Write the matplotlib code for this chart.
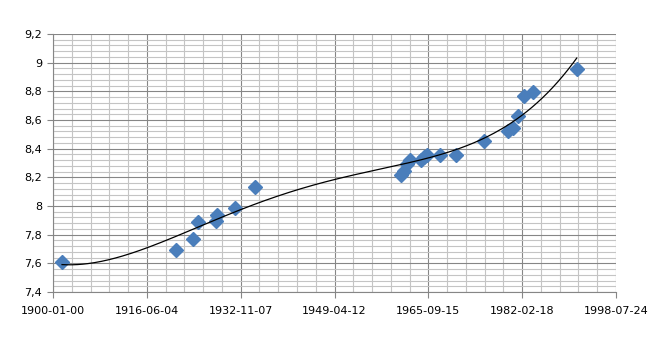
import numpy as np
import matplotlib
matplotlib.use("Agg")
import matplotlib.pyplot as plt
from matplotlib.ticker import MultipleLocator, FuncFormatter, FixedLocator

# Excel serial dates (days) and values
x_serial = [576, 7866, 8934, 9292, 10423, 10506, 11638, 12917,
            22234, 22445, 22637, 22797, 23520, 23700, 23900, 24746, 25770,
            27580, 29115, 29397, 29755, 30138, 30714, 33489]
y_vals = [7.609, 7.693, 7.770, 7.891, 7.898, 7.937, 7.984, 8.135,
          8.216, 8.246, 8.293, 8.318, 8.321, 8.342, 8.356, 8.356, 8.356,
          8.454, 8.525, 8.542, 8.630, 8.768, 8.794, 8.956]

x_tick_pos = [0, 6000, 12000, 18000, 24000, 30000, 36000]
x_tick_labels = ["1900-01-00", "1916-06-04", "1932-11-07", "1949-04-12",
                 "1965-09-15", "1982-02-18", "1998-07-24"]

W, H = 666, 356
fig = plt.figure(figsize=(W/100, H/100), dpi=100)
ax = fig.add_axes([53/W, (H-292)/H, (616-53)/W, (292-34)/H])

ax.set_xlim(0, 36000)
ax.set_ylim(7.4, 9.2)

ax.xaxis.set_major_locator(FixedLocator(x_tick_pos))
ax.set_xticklabels(x_tick_labels)
ax.xaxis.set_minor_locator(MultipleLocator(1200))
ax.yaxis.set_major_locator(MultipleLocator(0.2))
ax.yaxis.set_minor_locator(MultipleLocator(0.04))
ax.yaxis.set_major_formatter(FuncFormatter(lambda v, p: ("%g" % round(v, 2)).replace(".", ",")))

ax.grid(True, which="major", color="#868686", lw=0.8, zorder=1)
ax.grid(True, which="minor", color="#c4c4c4", lw=0.8, zorder=0)
ax.set_axisbelow(True)

for s in ["top", "right"]:
    ax.spines[s].set_visible(False)
for s in ["left", "bottom"]:
    ax.spines[s].set_color("#868686")
    ax.spines[s].set_linewidth(0.8)

ax.tick_params(which="major", length=4, color="#868686", labelsize=8, labelcolor="black")
ax.tick_params(which="minor", length=0)
ax.tick_params(axis="x", pad=6)
ax.tick_params(axis="y", pad=4)

ax.plot(x_serial, y_vals, linestyle="none", marker="D", markersize=7,
        color="#4a7ebb", markeredgecolor="#4a7ebb", zorder=3)

# polynomial (order 4) trendline, as in the Excel chart
xa = np.array(x_serial, float) / 10000.0
coef = np.polyfit(xa, np.array(y_vals, float), 4)
xs = np.linspace(min(x_serial), max(x_serial), 300)
ax.plot(xs, np.polyval(coef, xs / 10000.0), color="black", lw=0.9, zorder=4)

fig.savefig("out.png", dpi=100)
